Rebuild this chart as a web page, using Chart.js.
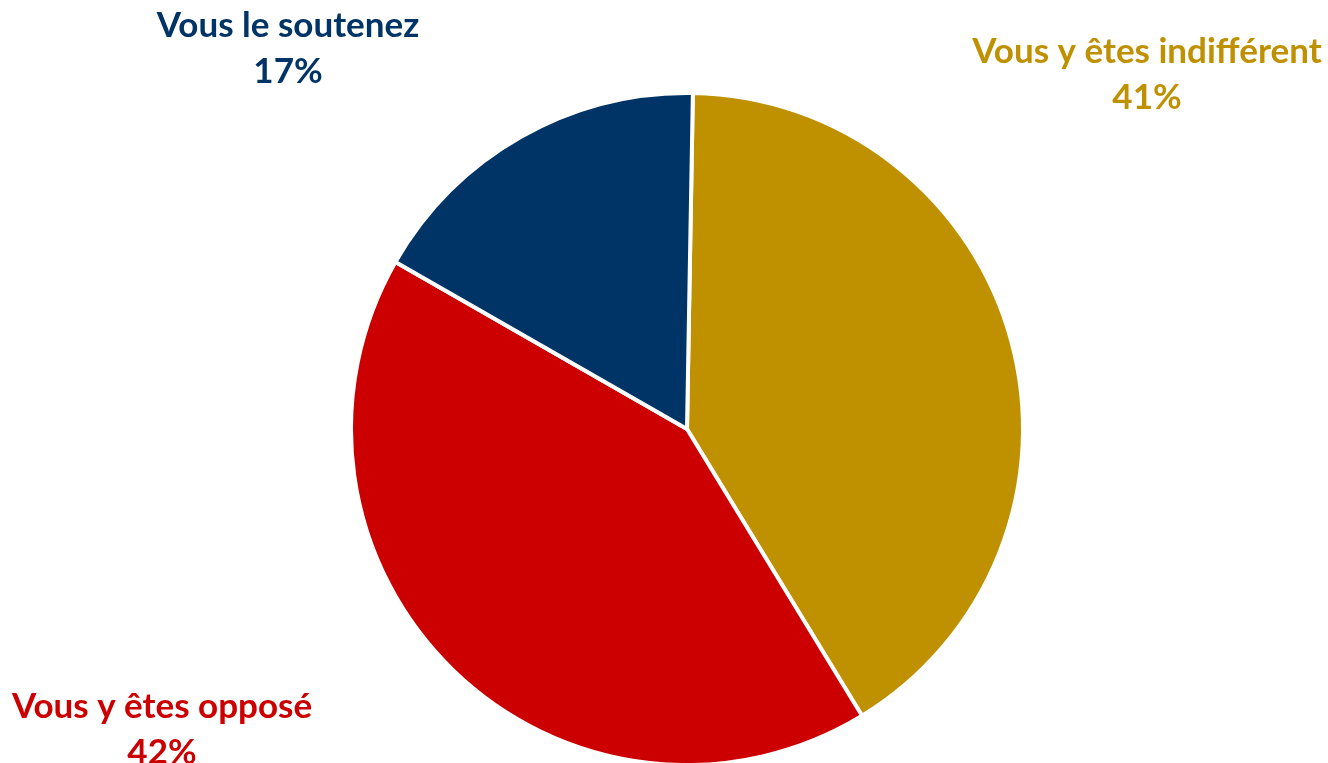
<!DOCTYPE html>
<html>
<head>
<meta charset="utf-8">
<script src="https://cdn.jsdelivr.net/npm/chart.js@4"></script>
<style>
  html, body { margin: 0; padding: 0; background: #ffffff; }
  #wrap { width: 1328px; height: 763px; }
</style>
</head>
<body>
<div id="wrap"><canvas id="pieChart"></canvas></div>
<script>
// Opinion split, clockwise from the top
var labels = ['Vous y êtes indifférent', 'Vous y êtes opposé', 'Vous le soutenez'];
var values = [41, 42, 17];
var sliceColors = ['#BF9000', '#CC0000', '#003366'];

// where each caption sits (centre x, first baseline y)
var captionPos = [
    { x: 1147, y: 63 },
    { x: 162, y: 718 },
    { x: 288, y: 37 }
];

var outsideLabels = {
    id: 'outsideLabels',
    afterDraw: function(chart) {
        var ctx = chart.ctx;
        ctx.save();
        ctx.font = 'bold 35px Lato, "Open Sans", sans-serif';
        ctx.textAlign = 'center';
        ctx.textBaseline = 'alphabetic';
        for (var i = 0; i < labels.length; i++) {
            var p = captionPos[i];
            ctx.fillStyle = sliceColors[i];
            ctx.fillText(labels[i], p.x, p.y);
            ctx.fillText(values[i] + '%', p.x, p.y + 46);
        }
        ctx.restore();
    }
};

new Chart(document.getElementById('pieChart'), {
    type: 'pie',
    data: {
        labels: labels,
        datasets: [{
            data: values,
            backgroundColor: sliceColors,
            borderColor: '#ffffff',
            borderWidth: 4
        }]
    },
    options: {
        responsive: true,
        maintainAspectRatio: false,
        animation: false,
        rotation: 1,
        radius: 336,
        layout: { padding: { top: 95, bottom: 0, left: 46, right: 0 } },
        plugins: {
            legend: { display: false },
            tooltip: { enabled: false }
        }
    },
    plugins: [outsideLabels]
});
</script>
</body>
</html>
